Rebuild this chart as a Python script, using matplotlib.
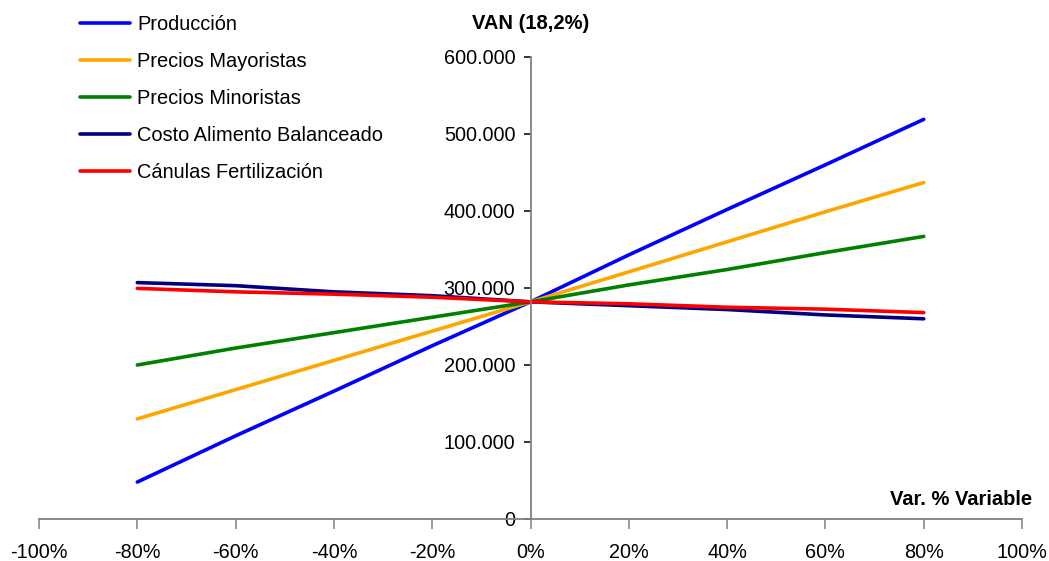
import matplotlib
matplotlib.use("Agg")
import matplotlib.pyplot as plt
from matplotlib.ticker import FuncFormatter, MultipleLocator

plt.rcParams['font.family'] = ['Liberation Sans', 'DejaVu Sans']

# Sensitivity of NPV (VAN at 18.2%) to variation of each input
variacion = [-80, -60, -40, -20, 0, 20, 40, 60, 80]
produccion = [48000, 108000, 166000, 225000, 282000, 343000, 402000, 460000, 519000]
precios_mayoristas = [130000, 168000, 206000, 244000, 282000, 321000, 360000, 399000, 437000]
precios_minoristas = [200000, 222000, 242000, 262000, 282000, 304000, 324000, 346000, 367000]
costo_alimento = [307000, 303000, 295000, 290000, 282000, 277000, 272000, 265000, 260000]
canulas = [299500, 295000, 292000, 288000, 282000, 279500, 275000, 272500, 268000]

series = [
    ("Producción", produccion, "#0000FF"),
    ("Precios Mayoristas", precios_mayoristas, "#FFA500"),
    ("Precios Minoristas", precios_minoristas, "#008000"),
    ("Costo Alimento Balanceado", costo_alimento, "#000080"),
    ("Cánulas Fertilización", canulas, "#FF0000"),
]

fig = plt.figure(figsize=(10.49, 5.61), dpi=100)
ax = fig.add_axes([0.0372, 0.0749, 0.9371, 0.8235])

for name, vals, color in series:
    ax.plot(variacion, vals, color=color, lw=2.6, label=name, solid_capstyle='round')

ax.set_xlim(-100, 100)
ax.set_ylim(0, 600000)
ax.xaxis.set_major_locator(MultipleLocator(20))
ax.yaxis.set_major_locator(MultipleLocator(100000))
ax.xaxis.set_major_formatter(FuncFormatter(lambda v, p: f"{v:.0f}%"))
ax.yaxis.set_major_formatter(FuncFormatter(lambda v, p: f"{v:,.0f}".replace(",", ".")))

for s in ("top", "right"):
    ax.spines[s].set_visible(False)
ax.spines["left"].set_position(("data", 0))
for s in ("left", "bottom"):
    ax.spines[s].set_color("#808080")
    ax.spines[s].set_linewidth(1.3)

ax.tick_params(axis="x", direction="out", length=7, width=1.1, color="#808080",
               labelsize=14.3, pad=10)
ax.tick_params(axis="y", direction="out", length=5, width=1.1, color="black",
               labelsize=14.3, pad=6)

fig.text(0.506, 0.958, "VAN (18,2%)", ha="center", va="center",
         fontsize=14.5, fontweight="bold")
fig.text(0.984, 0.110, "Var. % Variable", ha="right", va="center",
         fontsize=14.5, fontweight="bold")

fig.legend(loc="upper left", bbox_to_anchor=(0.069, 0.987), frameon=False,
           fontsize=14.4, handlelength=2.5, handletextpad=0.35, labelspacing=0.9,
           borderaxespad=0)

fig.savefig("out.png", dpi=100)
